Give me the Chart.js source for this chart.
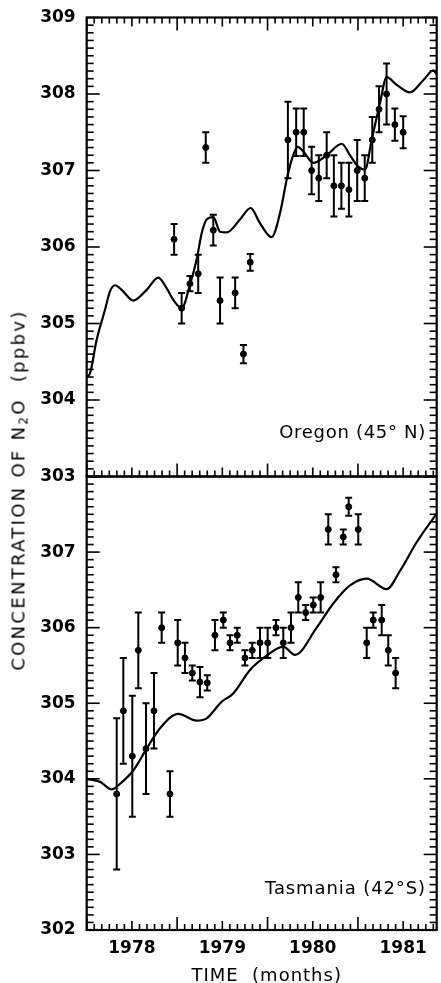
<!DOCTYPE html>
<html>
<head>
<meta charset="utf-8">
<script src="https://cdn.jsdelivr.net/npm/chart.js@4.4.1/dist/chart.umd.min.js"></script>
<style>
html,body{margin:0;padding:0;background:#fff;width:441px;height:983px;overflow:hidden;}
#wrap{position:relative;width:441px;height:983px;}
canvas{position:absolute;left:0;}
#c1{top:0;}
#c2{top:466px;}
.txt{position:absolute;font-family:"DejaVu Sans";font-size:18px;line-height:18px;color:#000;white-space:pre;}
#ytitle{left:21px;top:489.5px;transform:translate(-50%,-50%) rotate(-90deg);letter-spacing:2.3px;}
#xtitle{left:266.7px;top:966.4px;transform:translateX(-50%);letter-spacing:1px;}
#lab1{right:15px;top:423px;letter-spacing:0.7px;}
#lab2{right:15px;top:879.4px;letter-spacing:0.9px;}
</style>
</head>
<body>
<div id="wrap">
<canvas id="c1" width="441" height="495"></canvas>
<canvas id="c2" width="441" height="517"></canvas>
<div class="txt" id="ytitle">CONCENTRATION OF N<span style="font-size:12px;vertical-align:-3px">2</span>O  (ppbv)</div>
<div class="txt" id="xtitle">TIME  (months)</div>
<div class="txt" id="lab1">Oregon (45° N)</div>
<div class="txt" id="lab2">Tasmania (42°S)</div>
</div>
<script>
// ---- axis ticks (x in months since Jan 1978) ----
const yearLabels = ['1978', '1979', '1980', '1981'];
const yearLabelMonths = [6, 18, 30, 42];
const xMin = 0, xMax = 46.45;
const oregonYTicks = [303, 304, 305, 306, 307, 308, 309];
const tasmaniaYTicks = [302, 303, 304, 305, 306, 307];

// ---- Oregon (45° N) monthly means ----
const oregonMonths = [11.6, 12.6, 13.7, 14.8, 15.8, 16.8, 17.7, 19.7, 20.8, 21.7, 26.7, 27.8, 28.8, 29.85, 30.8, 31.85, 32.8, 33.8, 34.8, 35.9, 36.9, 37.9, 38.8, 39.8, 40.9, 42.0];
const oregonValues = [306.1, 305.2, 305.52, 305.65, 307.3, 306.22, 305.3, 305.4, 304.6, 305.8, 307.4, 307.5, 307.5, 307.0, 306.9, 307.2, 306.8, 306.8, 306.75, 307.0, 306.9, 307.4, 307.8, 308.0, 307.6, 307.5];
const oregonErrors = [0.2, 0.2, 0.1, 0.25, 0.2, 0.2, 0.3, 0.2, 0.12, 0.11, 0.5, 0.31, 0.31, 0.31, 0.3, 0.3, 0.4, 0.3, 0.35, 0.4, 0.3, 0.3, 0.3, 0.4, 0.21, 0.21];
// model curve
const oregonCurveMonths = [0, 0.44, 1.33, 2.43, 3.09, 3.76, 4.64, 6.18, 7.96, 9.5, 10.62, 11.49, 12.61, 13.71, 14.6, 15.26, 15.92, 16.8, 17.69, 18.58, 20.34, 21.76, 23.0, 24.55, 25.65, 26.54, 27.2, 28.0, 28.74, 30.07, 31.85, 33.84, 34.94, 36.04, 36.93, 37.82, 38.92, 39.81, 41.14, 42.9, 44.67, 46.0, 46.45];
const oregonCurveValues = [304.3, 304.35, 304.79, 305.18, 305.42, 305.5, 305.44, 305.3, 305.44, 305.6, 305.46, 305.31, 305.2, 305.51, 305.84, 306.18, 306.36, 306.39, 306.2, 306.19, 306.36, 306.51, 306.31, 306.13, 306.44, 306.88, 307.14, 307.31, 307.25, 307.1, 307.2, 307.35, 307.2, 307.05, 307.01, 307.4, 307.88, 308.22, 308.12, 308.02, 308.18, 308.31, 308.26];

// ---- Tasmania (42° S) monthly means ----
const tasmaniaMonths = [3.98, 4.86, 6.05, 6.85, 7.87, 8.93, 9.95, 11.05, 12.08, 13.04, 14.01, 15.03, 16.0, 17.02, 18.13, 19.02, 19.98, 21.0, 21.97, 23.0, 24.02, 25.12, 26.09, 27.11, 28.08, 29.06, 30.07, 31.05, 32.06, 33.08, 34.05, 34.77, 36.04, 37.16, 38.03, 39.15, 40.02, 41.0];
const tasmaniaValues = [303.8, 304.9, 304.3, 305.7, 304.4, 304.9, 306.0, 303.8, 305.8, 305.6, 305.4, 305.28, 305.27, 305.9, 306.1, 305.8, 305.9, 305.6, 305.7, 305.8, 305.8, 306.0, 305.8, 306.0, 306.4, 306.2, 306.3, 306.4, 307.3, 306.7, 307.2, 307.6, 307.3, 305.8, 306.1, 306.1, 305.7, 305.4];
const tasmaniaErrors = [1.0, 0.7, 0.8, 0.5, 0.6, 0.5, 0.2, 0.3, 0.3, 0.2, 0.1, 0.2, 0.1, 0.2, 0.1, 0.1, 0.1, 0.1, 0.1, 0.2, 0.2, 0.1, 0.2, 0.2, 0.2, 0.1, 0.1, 0.2, 0.2, 0.1, 0.1, 0.12, 0.2, 0.2, 0.1, 0.2, 0.2, 0.2];
const tasmaniaCurveMonths = [0, 1.76, 3.32, 4.6, 6.18, 7.96, 9.73, 12.15, 14.6, 15.92, 17.91, 19.45, 21.67, 23.89, 26.09, 27.64, 30.52, 32.72, 34.94, 37.16, 39.81, 41.57, 43.79, 46.45];
const tasmaniaCurveValues = [304.0, 303.96, 303.86, 303.95, 304.11, 304.4, 304.67, 304.86, 304.77, 304.8, 305.02, 305.13, 305.44, 305.63, 305.75, 305.64, 306.0, 306.32, 306.56, 306.65, 306.51, 306.75, 307.13, 307.51];

Chart.defaults.font.family = 'DejaVu Sans';
Chart.defaults.font.size = 17;
Chart.defaults.font.weight = 'bold';
Chart.defaults.color = '#000';

const zip = (xs, ys) => xs.map((x, i) => ({x: x, y: ys[i]}));

const errorBars = {
  id: 'errorBars',
  afterDatasetsDraw(chart) {
    const ctx = chart.ctx;
    const xs = chart.scales.x, ys = chart.scales.y;
    ctx.save();
    ctx.strokeStyle = '#000';
    ctx.lineWidth = 2;
    chart.data.datasets.forEach(ds => {
      if (!ds.errors) return;
      ds.data.forEach((p, i) => {
        const e = ds.errors[i];
        const px = xs.getPixelForValue(p.x);
        const t = ys.getPixelForValue(p.y + e);
        const b = ys.getPixelForValue(p.y - e);
        ctx.beginPath();
        ctx.moveTo(px, t); ctx.lineTo(px, b);
        ctx.moveTo(px - 3.5, t); ctx.lineTo(px + 3.5, t);
        ctx.moveTo(px - 3.5, b); ctx.lineTo(px + 3.5, b);
        ctx.stroke();
      });
    });
    ctx.restore();
  }
};

function frameTicksPlugin(showTop, showBottom) {
  return {
    id: 'frameTicks',
    afterDraw(chart) {
      const ctx = chart.ctx;
      const a = chart.chartArea;
      const xs = chart.scales.x, ys = chart.scales.y;
      ctx.save();
      ctx.strokeStyle = '#000';
      ctx.lineWidth = 2.2;
      ctx.strokeRect(a.left, a.top, a.right - a.left, a.bottom - a.top);
      ctx.lineWidth = 1.6;
      const line = (x1, y1, x2, y2) => {
        ctx.beginPath(); ctx.moveTo(x1, y1); ctx.lineTo(x2, y2); ctx.stroke();
      };
      for (let m = 0; m <= 46; m++) {
        const px = xs.getPixelForValue(m);
        const len = m % 12 === 0 ? 13 : (m % 6 === 0 ? 9 : 6);
        if (showTop) line(px, a.top, px, a.top + len);
        if (showBottom) line(px, a.bottom, px, a.bottom - len);
      }
      const lo = Math.round(ys.min * 10), hi = Math.round(ys.max * 10);
      for (let i = lo; i <= hi; i++) {
        const py = ys.getPixelForValue(i / 10);
        const len = i % 10 === 0 ? 13 : 7;
        line(a.left, py, a.left + len, py);
        line(a.right, py, a.right - len, py);
      }
      ctx.restore();
    }
  };
}

function makeChart(id, o) {
  return new Chart(document.getElementById(id), {
    type: 'scatter',
    data: {
      datasets: [
        {type: 'line', data: zip(o.curveX, o.curveY), borderColor: '#000', borderWidth: 2.2,
         pointRadius: 0, cubicInterpolationMode: 'monotone', fill: false, order: 2},
        {type: 'scatter', data: zip(o.px, o.py), errors: o.err, backgroundColor: '#000',
         borderColor: '#000', pointRadius: 3, pointHoverRadius: 3, order: 1}
      ]
    },
    options: {
      responsive: false, animation: false, events: [],
      layout: {padding: o.padding},
      plugins: {legend: {display: false}, tooltip: {enabled: false}},
      scales: {
        x: {
          type: 'linear', min: xMin, max: xMax, display: o.showX,
          grid: {display: false, drawTicks: false}, border: {display: false},
          afterBuildTicks: s => { s.ticks = yearLabelMonths.map(v => ({value: v})); },
          ticks: {padding: 8, font: {size: 17, weight: 'bold'}, color: '#000',
                  callback: v => yearLabels[yearLabelMonths.indexOf(v)]},
          afterFit: s => { s.height = o.showX ? 53 : 0; s.paddingLeft = 0; s.paddingRight = 0; }
        },
        y: {
          type: 'linear', min: o.ymin, max: o.ymax,
          grid: {display: false, drawTicks: false}, border: {display: false},
          afterBuildTicks: s => { s.ticks = o.yticks.map(v => ({value: v})); },
          ticks: {padding: 11, font: {size: 17, weight: 'bold'}, color: '#000'},
          afterFit: s => { s.width = 86.7; s.paddingTop = 0; s.paddingBottom = 0; }
        }
      }
    },
    plugins: [errorBars, frameTicksPlugin(o.topTicks, true)]
  });
}

makeChart('c1', {
  curveX: oregonCurveMonths, curveY: oregonCurveValues,
  px: oregonMonths, py: oregonValues, err: oregonErrors,
  ymin: 303, ymax: 309, yticks: oregonYTicks, showX: false,
  padding: {left: 0, right: 4.3, top: 17.5, bottom: 18.5},
  topTicks: true
});
makeChart('c2', {
  curveX: tasmaniaCurveMonths, curveY: tasmaniaCurveValues,
  px: tasmaniaMonths, py: tasmaniaValues, err: tasmaniaErrors,
  ymin: 302, ymax: 308, yticks: tasmaniaYTicks, showX: true,
  padding: {left: 0, right: 4.3, top: 10.5, bottom: 0},
  topTicks: false
});
</script>
</body>
</html>
